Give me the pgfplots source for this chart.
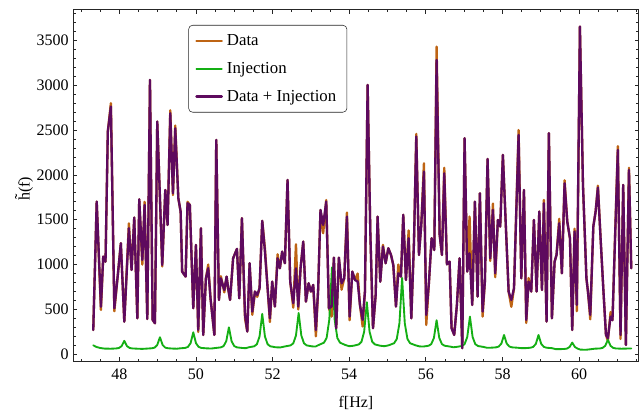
\documentclass[border=0pt]{standalone}
\usepackage{fontspec}
\setmainfont{Liberation Serif}
\usepackage{pgfplots}
\usepackage{pgfplotstable}
\pgfplotsset{compat=1.18}
\definecolor{dataorange}{RGB}{190,100,20}
\definecolor{injgreen}{RGB}{20,175,20}
\definecolor{sumpurple}{RGB}{94,10,94}

% f, Data + Injection (s), Data (d)
\pgfplotstableread{
f s d
47.32 271 271
47.41 1702 1702
47.52 530 494
47.58 1089 1089
47.64 1033 1033
47.70 2483 2483
47.78 2762 2800
47.87 513 480
47.96 880 880
48.04 1238 1238
48.13 364 364
48.25 1405 1460
48.32 940 940
48.39 1524 1524
48.47 401 401
48.52 1728 1728
48.60 1052 1000
48.66 1665 1700
48.73 394 394
48.80 3059 3059
48.87 383 383
48.93 346 346
48.99 2594 2594
49.06 1750 1750
49.12 996 980
49.20 1832 1832
49.26 1442 1442
49.33 2687 2720
49.40 1795 1775
49.46 2520 2550
49.54 1740 1740
49.60 1591 1591
49.64 922 922
49.73 866 866
49.78 1684 1700
49.84 1665 1665
49.93 513 513
50.00 1219 1219
50.06 271 250
50.13 1405 1405
50.19 216 216
50.26 847 847
50.32 960 1000
50.38 624 624
50.48 216 216
50.53 2390 2390
50.60 606 606
50.65 847 870
50.70 773 773
50.74 717 690
50.80 866 866
50.84 736 736
50.89 606 606
50.97 1070 1070
51.07 1175 1175
51.13 624 624
51.20 1517 1517
51.28 439 400
51.34 253 253
51.40 1015 1015
51.47 476 440
51.54 699 699
51.60 662 640
51.66 736 736
51.73 1487 1487
51.80 1145 1180
51.87 736 736
51.93 402 360
51.99 810 810
52.06 532 532
52.13 1070 1115
52.19 959 959
52.25 1145 1145
52.32 1015 1015
52.39 1944 1944
52.46 810 810
52.54 569 520
52.61 959 1227
52.67 532 500
52.73 959 959
52.80 1256 1256
52.87 587 587
52.94 792 792
53.00 699 699
53.06 773 773
53.13 271 200
53.19 736 736
53.25 1609 1609
53.32 1442 1350
53.40 1702 1720
53.47 513 513
53.54 532 420
53.60 1078 1078
53.66 290 290
53.73 1078 1078
53.80 792 720
53.87 848 848
53.94 1535 1580
54.01 420 380
54.08 922 922
54.15 829 829
54.22 810 900
54.28 550 550
54.35 383 310
54.41 699 699
54.48 3003 3003
54.55 1368 1368
54.62 290 290
54.69 662 662
54.74 1535 1535
54.81 810 810
54.88 1201 1220
54.95 1015 1015
55.02 1182 1182
55.09 1108 1108
55.15 996 996
55.22 532 532
55.28 903 1000
55.35 866 866
55.41 1554 1554
55.48 829 829
55.55 1294 1380
55.62 401 401
55.69 1256 1256
55.75 2427 2457
55.82 1108 1108
55.88 1442 1442
55.95 2037 2130
56.01 439 327
56.08 800 800
56.15 1294 1294
56.22 1163 1163
56.28 3282 3430
56.36 1331 1331
56.42 1108 1108
56.48 2018 2080
56.55 1003 1003
56.62 1033 1033
56.67 290 300
56.74 216 216
56.81 550 550
56.88 1070 1070
56.95 67 67
57.01 2409 2409
57.08 922 922
57.14 1126 1535
57.21 550 550
57.28 1702 1702
57.35 643 643
57.41 1795 1795
57.48 476 420
57.54 810 810
57.61 2178 2178
57.68 1070 1040
57.75 1609 1680
57.81 903 860
57.88 1498 1498
57.94 1424 1424
58.01 2223 2223
58.10 1300 1300
58.16 699 699
58.23 606 530
58.30 736 736
58.42 2446 2500
58.49 847 847
58.56 1832 1832
58.62 383 350
58.68 810 850
58.75 699 699
58.82 1498 1498
58.89 699 699
58.96 1591 1591
59.03 717 717
59.08 1684 1720
59.15 364 364
59.21 2464 2464
59.29 401 401
59.36 1033 1033
59.41 1108 1108
59.48 1461 1510
59.55 903 903
59.62 1907 1940
59.69 1480 1480
59.76 1294 1294
59.82 271 271
59.88 1368 1400
59.94 550 480
60.02 3654 3654
60.10 1888 1888
60.19 847 847
60.23 699 699
60.29 439 390
60.37 1424 1424
60.43 1591 1591
60.49 1859 1880
60.56 1290 1290
60.63 736 736
60.70 216 216
60.75 180 150
60.82 420 470
60.87 380 380
61.01 2278 2320
61.08 216 170
61.15 1888 1888
61.22 104 104
61.30 2055 2080
61.36 959 959
}\spectrum

% injected comb
\pgfplotstableread{
f h
47.32 100
47.40 82
47.50 70
47.62 63
47.78 62
47.92 65
47.99 70
48.06 91
48.13 150
48.20 91
48.27 70
48.34 65
48.48 62
48.60 60
48.71 63
48.85 67
48.92 74
48.99 104
49.06 190
49.13 104
49.20 74
49.27 67
49.41 63
49.50 62
49.58 66
49.72 71
49.79 82
49.86 124
49.93 245
50.00 124
50.07 82
50.14 71
50.28 66
50.40 64
50.51 70
50.65 77
50.72 91
50.79 145
50.86 300
50.93 145
51.00 91
51.07 77
51.21 70
51.30 68
51.38 78
51.52 89
51.59 112
51.66 199
51.73 450
51.80 199
51.87 112
51.94 89
52.08 78
52.20 76
52.33 88
52.47 99
52.54 122
52.61 209
52.68 460
52.75 209
52.82 122
52.89 99
53.03 88
53.12 86
53.20 103
53.34 129
53.41 182
53.48 386
53.55 970
53.62 386
53.69 182
53.76 129
53.90 103
54.00 90
54.11 95
54.25 110
54.32 139
54.39 253
54.46 580
54.53 253
54.60 139
54.67 110
54.81 95
54.92 90
55.03 100
55.17 123
55.24 169
55.31 345
55.38 850
55.45 345
55.52 169
55.59 123
55.73 100
55.83 88
55.93 86
56.07 95
56.14 113
56.21 182
56.28 380
56.35 182
56.42 113
56.49 95
56.63 86
56.72 78
56.80 82
56.94 92
57.01 113
57.08 192
57.15 420
57.22 192
57.29 113
57.36 92
57.50 82
57.60 72
57.69 73
57.83 77
57.90 86
57.97 119
58.04 215
58.11 119
58.18 86
58.25 77
58.39 73
58.50 68
58.59 68
58.73 73
58.80 82
58.87 116
58.94 215
59.01 116
59.08 82
59.15 73
59.29 68
59.38 58
59.47 57
59.61 59
59.68 63
59.75 81
59.82 130
59.89 81
59.96 63
60.03 52
60.17 50
60.28 55
60.40 62
60.54 65
60.61 71
60.68 94
60.75 160
60.82 94
60.89 71
60.96 65
61.10 62
61.36 65
}\injection

\begin{document}
\begin{tikzpicture}
\begin{axis}[
    scale only axis,
    width=423.9pt, height=263.6pt,
    xmin=46.8, xmax=61.55,
    ymin=-75, ymax=3844,
    xtick={48,50,...,60},
    minor xtick={47,47.5,...,61.5},
    ytick={0,500,...,3500},
    minor ytick={0,100,...,3800},
    xtick pos=both, ytick pos=both,
    xticklabel pos=lower, yticklabel pos=left,
    tick align=inside,
    major tick length=3pt,
    minor tick length=1.7pt,
    tick style={black!85, line width=0.6pt},
    axis line style={black!85, line width=0.7pt},
    /pgf/number format/assume math mode=true,
    /pgf/number format/set thousands separator={},
    tick label style={font=\fontsize{12}{14}\selectfont},
    xticklabel style={yshift=-2.5pt},
    xlabel={f[Hz]},
    ylabel={\~{h}(f)},
    label style={font=\fontsize{12}{14}\selectfont},
    xlabel style={at={(axis description cs:0.5,0)}, anchor=center, yshift=-31.5pt},
    ylabel style={at={(axis description cs:0,0.49)}, anchor=center, yshift=37pt},
    legend cell align=left,
    legend image code/.code={\draw[#1] (0pt,0pt) -- (19pt,0pt);},
    legend style={at={(0.2035,0.956)}, anchor=north west,
        draw=black!85, rounded corners=3pt,
        font=\fontsize{12.6}{14}\selectfont,
        row sep=7.1pt, inner xsep=5pt, inner ysep=4.8pt,
        nodes={inner xsep=3pt}},
    every axis plot/.append style={line join=round, line cap=round},
]
\addplot[dataorange, line width=1.75pt] table[x=f, y=d] {\spectrum};
\addlegendentry{Data}
\addplot[injgreen, line width=1.4pt] table[x=f, y=h] {\injection};
\addlegendentry{Injection}
\addplot[sumpurple, line width=1.75pt] table[x=f, y=s] {\spectrum};
\addlegendentry{Data + Injection}
\end{axis}
\pgfresetboundingbox
\path[use as bounding box] (-55pt,-39pt) rectangle (426.5pt,270.75pt);
\end{tikzpicture}
\end{document}
